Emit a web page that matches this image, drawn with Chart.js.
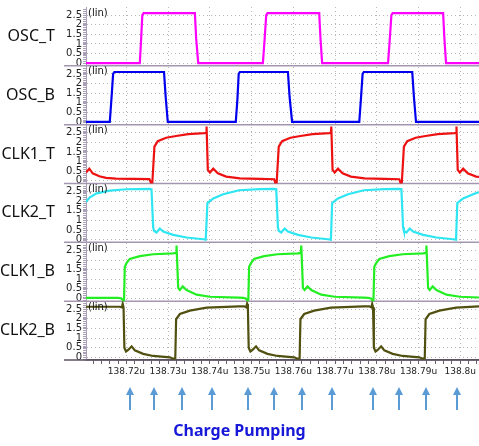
<!DOCTYPE html>
<html>
<head>
<meta charset="utf-8">
<script src="https://cdn.jsdelivr.net/npm/chart.js@4.4.1/dist/chart.umd.min.js"></script>
<style>
  html, body { margin: 0; padding: 0; background: #fff; }
  canvas { display: block; }
</style>
</head>
<body>
<canvas id="wave" width="479" height="446"></canvas>
<script>
// x values are ns after 138.700us, ticks are printed back as "138.72u" etc.
var T0_NS = 138700;
var X_MIN = 10.3, X_MAX = 104.5;
var xMajor = [20, 30, 40, 50, 60, 70, 80, 90, 100];
var yTicks = [0, 0.5, 1, 1.5, 2, 2.5];

var panelNames = ['OSC_T', 'OSC_B', 'CLK1_T', 'CLK2_T', 'CLK1_B', 'CLK2_B'];
var panelColors = ['#ff00ff', '#0000ee', '#ee1111', '#2ee6f2', '#22ee22', '#505010'];

// [time ns, volts]
var oscT = [[10.3,0],[23.2,0],[23.5,1.2],[23.8,2.5],[24.1,2.6],[36.4,2.6],[36.7,1.3],[37.2,0],[52.7,0],[53.1,1.2],[53.5,2.5],[53.8,2.6],
  [66.2,2.6],[66.5,1.3],[66.9,0],[82.7,0],[83.1,1.2],[83.5,2.5],[83.8,2.6],[95.9,2.6],[96.2,1.3],[96.6,0],[104.5,0]];

var oscB = [[10.3,0],[16.0,0],[16.4,1.2],[16.8,2.5],[17.1,2.6],[29.0,2.6],[29.4,1.3],[29.9,0],[46.2,0],[46.6,1.2],[46.9,2.5],[47.2,2.6],
  [58.7,2.6],[59.1,1.3],[59.7,0],[75.8,0],[76.2,1.2],[76.6,2.5],[76.9,2.6],[88.5,2.6],[88.9,1.3],[89.4,0],[104.5,0]];

var clk1T = [[10.3,0.43],[11.1,0.63],[11.9,0.39],[13.5,0.24],[15.1,0.15],[17.5,0.11],[25.5,0.09],
  [25.9,-0.12],[26.2,-0.1],[26.7,1.78],[27.5,2.06],[29.5,2.24],[31.9,2.33],[34.8,2.43],[38.7,2.48],[39.1,2.5],[39.2,2.82],
  [39.5,0.57],[40.0,0.43],[40.8,0.63],[41.9,0.39],[43.9,0.22],[47.2,0.13],[52.0,0.1],[55.4,0.08],
  [55.7,-0.12],[56.0,-0.1],[56.5,1.78],[57.3,2.06],[59.3,2.24],[61.7,2.33],[64.6,2.43],[68.6,2.48],[69.0,2.5],[69.1,2.82],
  [69.4,0.57],[69.9,0.43],[70.7,0.63],[71.8,0.39],[73.8,0.22],[77.1,0.13],[81.9,0.1],[85.4,0.08],
  [85.7,-0.12],[86.0,-0.1],[86.5,1.78],[87.3,2.06],[89.3,2.24],[91.7,2.33],[94.6,2.43],[98.6,2.48],[99.0,2.5],[99.1,2.82],
  [99.4,0.57],[99.9,0.43],[100.7,0.63],[101.8,0.39],[103.8,0.22],[104.5,0.2]];

var clk2T = [[10.3,1.97],[11.25,2.2],[12.85,2.41],[16.0,2.55],[20.0,2.62],[25.6,2.64],[26.0,2.62],
  [26.4,0.64],[26.6,0.46],[27.2,0.37],[28.0,0.58],[28.8,0.42],[31.2,0.25],[34.4,0.11],[38.4,0.02],[39.0,0.0],
  [39.4,1.9],[40.8,2.14],[43.2,2.36],[47.0,2.57],[52.0,2.63],[55.4,2.64],
  [55.9,2.62],[56.3,0.64],[56.5,0.46],[57.1,0.37],[57.9,0.58],[58.7,0.42],[61.1,0.25],[64.3,0.11],[68.3,0.02],[69.0,0.0],
  [69.3,1.9],[70.7,2.14],[73.1,2.36],[76.9,2.57],[81.9,2.63],[85.3,2.64],
  [85.9,2.62],[86.3,0.64],[86.5,0.46],[87.1,0.37],[87.9,0.58],[88.7,0.42],[91.1,0.25],[94.3,0.11],[98.3,0.02],[99.0,0.0],
  [99.3,1.9],[100.7,2.14],[103.1,2.36],[104.5,2.48]];

var clk1B = [[10.3,0.03],[18.0,0.03],[18.8,0.0],[19.2,-0.12],[19.4,-0.15],
  [19.6,1.65],[20.05,1.85],[20.8,2.06],[23.2,2.2],[26.4,2.3],[31.2,2.35],[31.9,2.37],[32.0,2.75],
  [32.4,0.55],[32.8,0.44],[33.5,0.63],[34.4,0.44],[36.8,0.2],[40.0,0.09],[47.0,0.04],
  [48.0,0.03],[48.6,0.0],[49.0,-0.12],[49.2,-0.15],
  [49.4,1.65],[49.9,1.85],[50.6,2.06],[53.0,2.2],[56.2,2.3],[61.1,2.35],[61.8,2.37],[61.9,2.75],
  [62.3,0.55],[62.7,0.44],[63.4,0.63],[64.3,0.44],[66.7,0.2],[69.9,0.09],[76.9,0.04],
  [77.9,0.03],[78.6,0.0],[79.0,-0.12],[79.2,-0.15],
  [79.4,1.65],[79.9,1.85],[80.6,2.06],[83.0,2.2],[86.2,2.3],[91.1,2.35],[91.8,2.37],[91.9,2.75],
  [92.3,0.55],[92.7,0.44],[93.4,0.63],[94.3,0.44],[96.7,0.2],[99.9,0.09],[104.5,0.05]];

var clk2B = [[10.3,2.63],[18.4,2.63],[18.9,2.6],[19.1,2.78],[19.3,2.6],
  [19.5,0.5],[19.9,0.3],[20.4,0.38],[21.25,0.57],[22.0,0.36],[24.0,0.18],[26.4,0.07],[30.4,0.0],[31.2,-0.07],[31.7,-0.05],
  [31.9,1.98],[32.8,2.25],[35.2,2.43],[39.2,2.58],[47.0,2.65],
  [48.2,2.65],[48.7,2.6],[48.9,2.78],[49.1,2.6],
  [49.3,0.5],[49.7,0.3],[50.2,0.38],[51.05,0.57],[51.8,0.36],[53.8,0.18],[56.2,0.07],[60.2,0.0],[61.0,-0.07],[61.5,-0.05],
  [61.7,1.98],[62.6,2.25],[65.0,2.43],[69.0,2.58],[76.8,2.65],
  [78.2,2.65],[78.7,2.6],[78.9,2.78],[79.1,2.6],
  [79.3,0.5],[79.7,0.3],[80.2,0.38],[81.05,0.57],[81.8,0.36],[83.8,0.18],[86.2,0.07],[90.2,0.0],[91.0,-0.07],[91.5,-0.05],
  [91.7,1.98],[92.6,2.25],[95.0,2.43],[99.0,2.58],[104.5,2.65]];

var series = [oscT, oscB, clk1T, clk2T, clk1B, clk2B];

// charge pumping instants (ns after 138.700us)
var arrowTimes = [20.8, 26.6, 33.3, 40.5, 49.1, 55.4, 62.1, 69.3, 79.1, 85.4, 91.8, 99.3];

function fmtTime(v) {
  return ((T0_NS + v) / 1000).toFixed(2).replace(/0$/, '') + 'u';
}

var xTickValues = [];
for (var t = 12; t <= 104; t += 2) xTickValues.push(t);

function yScale(i) {
  return {
    type: 'linear',
    position: 'left',
    stack: 'panels',
    stackWeight: 1,
    weight: panelNames.length - i,
    min: -0.14,
    max: 2.92,
    afterBuildTicks: function(s) { s.ticks = yTicks.map(function(v) { return { value: v }; }); },
    afterFit: function(s) { s.width = 86; },
    ticks: {
      autoSkip: false,
      color: '#222',
      padding: 1,
      font: { family: 'DejaVu Sans', size: 10 },
      callback: function(v) { return String(v); }
    },
    grid: { color: '#b8b8b8', lineWidth: 1, tickLength: 3, tickColor: '#a9a0b8' },
    border: { color: '#a9a0b8', width: 1, dash: [1, 3] }
  };
}

var scales = {
  x: {
    type: 'linear',
    position: 'bottom',
    min: X_MIN,
    max: X_MAX,
    afterBuildTicks: function(s) { s.ticks = xTickValues.map(function(v) { return { value: v }; }); },
    ticks: {
      autoSkip: false,
      maxRotation: 0,
      color: '#222',
      padding: 2,
      font: { family: 'DejaVu Sans', size: 9 },
      callback: function(v) { return xMajor.indexOf(v) >= 0 ? fmtTime(v) : ''; }
    },
    grid: {
      color: function(c) { return (c.tick && xMajor.indexOf(c.tick.value) >= 0) ? '#b8b8b8' : 'rgba(0,0,0,0)'; },
      tickLength: 4,
      tickColor: '#6a6070'
    },
    border: { color: '#5a5060', width: 1.5, dash: [1, 3] }
  }
};
panelNames.forEach(function(n, i) { scales['y' + i] = yScale(i); });

var datasets = series.map(function(s, i) {
  return {
    label: panelNames[i],
    data: s.map(function(p) { return { x: p[0], y: p[1] }; }),
    yAxisID: 'y' + i,
    borderColor: panelColors[i],
    borderWidth: 2.2,
    pointRadius: 0,
    tension: 0,
    fill: false
  };
});

var panelDecor = {
  id: 'panelDecor',
  beforeDatasetsDraw: function(chart) {
    var ctx = chart.ctx, area = chart.chartArea;
    ctx.save();
    panelNames.forEach(function(n, i) {
      var s = chart.scales['y' + i];
      // ruler ticks on the y axis
      ctx.strokeStyle = '#a9a0b8';
      ctx.lineWidth = 1;
      ctx.beginPath();
      for (var v = -0.1; v <= 2.85; v += 0.1) {
        var y = Math.round(s.getPixelForValue(v)) + 0.5;
        ctx.moveTo(area.left - 3, y);
        ctx.lineTo(area.left, y);
      }
      ctx.stroke();
      // panel separator
      ctx.strokeStyle = i === panelNames.length - 1 ? '#5a5060' : '#a496b0';
      ctx.lineWidth = 1.5;
      ctx.beginPath();
      ctx.moveTo(64, s.bottom);
      ctx.lineTo(area.right, s.bottom);
      ctx.stroke();
    });
    ctx.restore();
  },
  afterDraw: function(chart) {
    var ctx = chart.ctx, area = chart.chartArea, x = chart.scales.x;
    ctx.save();
    panelNames.forEach(function(n, i) {
      var s = chart.scales['y' + i];
      ctx.fillStyle = '#111';
      ctx.font = '16px "Noto Sans"';
      ctx.textAlign = 'right';
      ctx.textBaseline = 'middle';
      ctx.fillText(n, 55, (s.top + s.bottom) / 2);
      ctx.font = '10px "DejaVu Sans"';
      ctx.textAlign = 'left';
      ctx.fillText('(lin)', area.left + 2, s.top + 6);
    });
    // charge pumping arrows
    ctx.strokeStyle = '#5b9bd5';
    ctx.fillStyle = '#5b9bd5';
    ctx.lineWidth = 2;
    arrowTimes.forEach(function(t) {
      var px = Math.round(x.getPixelForValue(t));
      ctx.beginPath();
      ctx.moveTo(px, 410);
      ctx.lineTo(px, 393);
      ctx.stroke();
      ctx.beginPath();
      ctx.moveTo(px - 4, 395);
      ctx.lineTo(px + 4, 395);
      ctx.lineTo(px, 387);
      ctx.closePath();
      ctx.fill();
    });
    ctx.restore();
  }
};

new Chart(document.getElementById('wave'), {
  type: 'line',
  data: { datasets: datasets },
  options: {
    responsive: false,
    animation: false,
    layout: { padding: { top: 5, left: 0, right: 0, bottom: 0 } },
    scales: scales,
    plugins: {
      legend: { display: false },
      tooltip: { enabled: false },
      title: {
        display: true,
        position: 'bottom',
        text: 'Charge Pumping',
        color: '#1818d8',
        font: { family: 'Noto Sans', size: 16, weight: 'bold' },
        padding: { top: 43, bottom: 5 }
      }
    }
  },
  plugins: [panelDecor]
});
</script>
</body>
</html>
